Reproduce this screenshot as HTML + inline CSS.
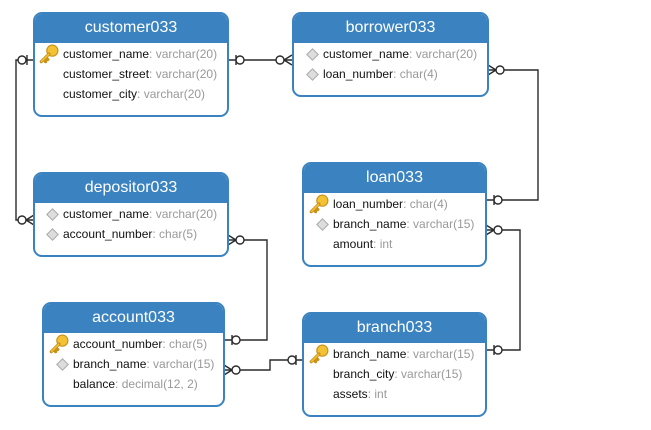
<!DOCTYPE html>
<html><head><meta charset="utf-8"><style>
body{margin:0;width:651px;height:430px;background:#fff;position:relative;overflow:hidden;font-family:"Liberation Sans","DejaVu Sans",sans-serif}
.t{position:absolute;border:2px solid #3b83c0;border-radius:9px;background:#fff;box-sizing:border-box;overflow:hidden}
.h{background:#3b83c0;color:#fff;font-size:16px;text-align:center;height:29px;line-height:28px}
.r{position:absolute;font-size:12px;color:#111;white-space:nowrap;line-height:14px}
.r span{color:#999}
.k{position:absolute;width:20px;height:20px}
.d{position:absolute;width:7px;height:7px;background:#ddd;border:1px solid #aaa;transform:rotate(45deg)}
svg{position:absolute;left:0;top:0}
</style></head><body>
<svg width="651" height="430" fill="none" stroke="#2a2a2a" stroke-width="1.4">
<path d="M228 60H292"/><path d="M236 55V65"/><circle cx="240" cy="60" r="4" fill="#fff"/>
<path d="M284 60L292 55M284 60L292 65"/><circle cx="280" cy="60" r="4" fill="#fff"/>
<path d="M34 60H16V220H34"/><path d="M27 55V65"/><circle cx="22" cy="60" r="4" fill="#fff"/>
<path d="M26 220L34 215M26 220L34 225"/><circle cx="22" cy="220" r="4" fill="#fff"/>
<path d="M488 70H538V200H486"/><path d="M496 70L488 65M496 70L488 75"/><circle cx="500" cy="70" r="4" fill="#fff"/>
<path d="M494 195V205"/><circle cx="498" cy="200" r="4" fill="#fff"/>
<path d="M486 230H520V350H486"/><path d="M494 230L486 225M494 230L486 235"/><circle cx="498" cy="230" r="4" fill="#fff"/>
<path d="M494 345V355"/><circle cx="498" cy="350" r="4" fill="#fff"/>
<path d="M228 240H267V340H224"/><path d="M236 240L228 235M236 240L228 245"/><circle cx="240" cy="240" r="4" fill="#fff"/>
<path d="M232 335V345"/><circle cx="236" cy="340" r="4" fill="#fff"/>
<path d="M224 370H270V360H303"/><path d="M232 370L224 365M232 370L224 375"/><circle cx="236" cy="370" r="4" fill="#fff"/>
<path d="M296 355V365"/><circle cx="292" cy="360" r="4" fill="#fff"/>
</svg>

<svg width="0" height="0"><defs><symbol id="key" viewBox="0 0 18 18"><circle cx="12" cy="6" r="5" fill="#f3c234" stroke="#c8901a"/><path d="M9 9L2 16M4 14L6 16M6 12L8 14" stroke="#c8901a" stroke-width="2.8" stroke-linecap="round"/><path d="M9 9L2 16" stroke="#f3c234" stroke-width="1.4"/></symbol></defs></svg>

<div class="t" style="left:33px;top:12px;width:196px;height:105px"><div class="h">customer033</div></div>
<svg class="k" style="left:39px;top:44px" viewBox="0 0 18 18"><use href="#key"/></svg>
<div class="r" style="left:63px;top:47px">customer_name<span>: varchar(20)</span></div>
<div class="r" style="left:63px;top:67px">customer_street<span>: varchar(20)</span></div>
<div class="r" style="left:63px;top:87px">customer_city<span>: varchar(20)</span></div>

<div class="t" style="left:292px;top:12px;width:197px;height:85px"><div class="h">borrower033</div></div>
<div class="d" style="left:308px;top:50px"></div>
<div class="r" style="left:323px;top:47px">customer_name<span>: varchar(20)</span></div>
<div class="d" style="left:308px;top:70px"></div>
<div class="r" style="left:323px;top:67px">loan_number<span>: char(4)</span></div>

<div class="t" style="left:33px;top:172px;width:196px;height:85px"><div class="h">depositor033</div></div>
<div class="d" style="left:48px;top:210px"></div>
<div class="r" style="left:63px;top:207px">customer_name<span>: varchar(20)</span></div>
<div class="d" style="left:48px;top:230px"></div>
<div class="r" style="left:63px;top:227px">account_number<span>: char(5)</span></div>

<div class="t" style="left:302px;top:162px;width:185px;height:105px"><div class="h">loan033</div></div>
<svg class="k" style="left:309px;top:194px" viewBox="0 0 18 18"><use href="#key"/></svg>
<div class="r" style="left:333px;top:197px">loan_number<span>: char(4)</span></div>
<div class="d" style="left:318px;top:220px"></div>
<div class="r" style="left:333px;top:217px">branch_name<span>: varchar(15)</span></div>
<div class="r" style="left:333px;top:237px">amount<span>: int</span></div>

<div class="t" style="left:42px;top:302px;width:183px;height:105px"><div class="h">account033</div></div>
<svg class="k" style="left:49px;top:334px" viewBox="0 0 18 18"><use href="#key"/></svg>
<div class="r" style="left:73px;top:337px">account_number<span>: char(5)</span></div>
<div class="d" style="left:58px;top:360px"></div>
<div class="r" style="left:73px;top:357px">branch_name<span>: varchar(15)</span></div>
<div class="r" style="left:73px;top:377px">balance<span>: decimal(12, 2)</span></div>

<div class="t" style="left:302px;top:312px;width:185px;height:105px"><div class="h">branch033</div></div>
<svg class="k" style="left:309px;top:344px" viewBox="0 0 18 18"><use href="#key"/></svg>
<div class="r" style="left:333px;top:347px">branch_name<span>: varchar(15)</span></div>
<div class="r" style="left:333px;top:367px">branch_city<span>: varchar(15)</span></div>
<div class="r" style="left:333px;top:387px">assets<span>: int</span></div>
</body></html>
